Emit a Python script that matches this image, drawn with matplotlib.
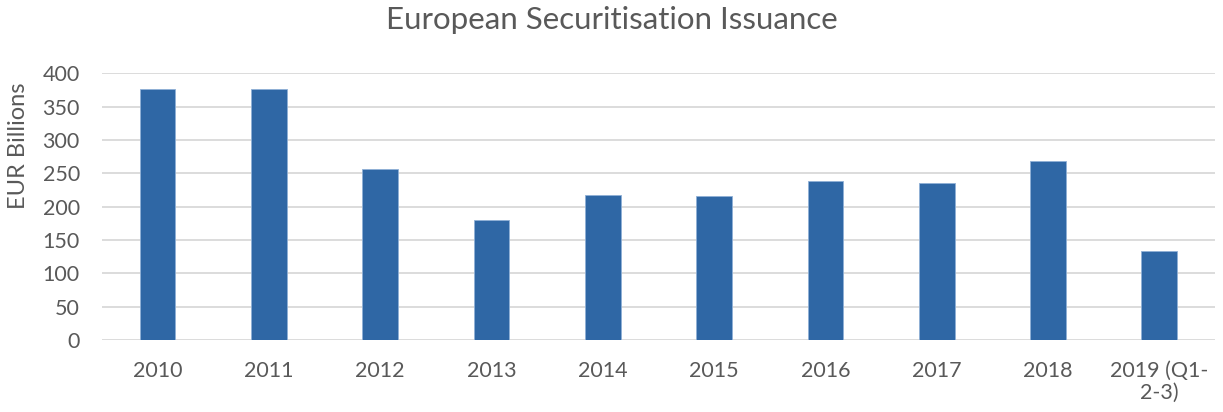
import matplotlib
matplotlib.use("Agg")
import matplotlib.pyplot as plt
import numpy as np

# --- data ---
years = ["2010", "2011", "2012", "2013", "2014", "2015", "2016", "2017", "2018",
         "2019 (Q1-\n2-3)"]
issuance = [377, 376, 257, 180, 217, 216, 239, 236, 269, 133]
yticks = [0, 50, 100, 150, 200, 250, 300, 350, 400]

GREY = "#595959"
plt.rcParams["font.family"] = ["Lato", "DejaVu Sans"]

fig = plt.figure(figsize=(12.23, 4.12), dpi=100)
ax = fig.add_axes([0.0834, 0.175, 0.910, 0.647])

x = np.arange(len(years))
ax.bar(x, issuance, width=0.32, color="#2F67A5", edgecolor="#8FB0D6",
       linewidth=0.6, zorder=3)

ax.set_xlim(-0.5, len(years) - 0.5)
ax.set_ylim(0, 400)
ax.set_yticks(yticks)
ax.set_xticks(x)
ax.set_xticklabels(years, linespacing=1.15)
ax.grid(axis="y", color="#D9D9D9", linewidth=1.3, zorder=0)
for s in ax.spines.values():
    s.set_visible(False)
ax.tick_params(length=0, labelsize=15.5, colors=GREY)
ax.tick_params(axis="x", pad=15)
ax.tick_params(axis="y", pad=16)
ax.set_ylabel("EUR Billions", fontsize=17, color=GREY)
ax.yaxis.set_label_coords(-0.066, 0.73)
fig.text(0.5, 0.985, "European Securitisation Issuance", fontsize=22.5,
         color=GREY, ha="center", va="top")

fig.savefig("out.png", dpi=100)
